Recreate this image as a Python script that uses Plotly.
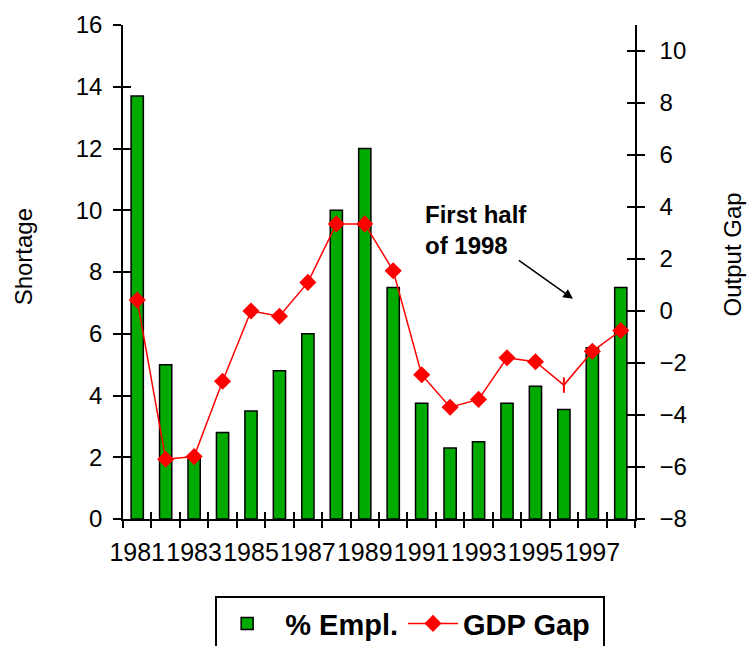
import plotly.graph_objects as go

years = list(range(1981, 1999))
empl = [13.7, 5.0, 2.0, 2.8, 3.5, 4.8, 6.0, 10.0, 12.0, 7.5, 3.75, 2.3, 2.5, 3.75, 4.3, 3.55, 5.55, 7.5]
gdp_gap = [0.42, -5.7, -5.6, -2.7, 0.0, -0.2, 1.1, 3.35, 3.35, 1.55, -2.45, -3.7, -3.4, -1.8, -1.95, -2.85, -1.55, -0.75]
gap_symbols = ["diamond"] * 15 + ["line-ns"] + ["diamond"] * 2
label_years = [1981, 1983, 1985, 1987, 1989, 1991, 1993, 1995, 1997]
boundaries = [y - 0.5 for y in years] + [years[-1] + 0.5]
left_ticks = list(range(0, 17, 2))
right_ticks = list(range(-8, 11, 2))

FONT = "Liberation Sans, Arial, sans-serif"
BLACK = "#000000"
GREEN = "rgb(0,170,0)"
RED = "#ff0000"

fig = go.Figure()
fig.add_trace(go.Bar(
    x=years, y=empl, name="\u00a0% Empl.", width=0.43,
    marker=dict(color=GREEN, line=dict(color=BLACK, width=1.5)),
    xaxis="x", yaxis="y",
))
fig.add_trace(go.Scatter(
    x=years, y=gdp_gap, name="GDP Gap\u00a0", mode="lines+markers",
    line=dict(color=RED, width=1.5),
    marker=dict(color=RED, size=11, symbol=gap_symbols, line=dict(color=RED, width=2)),
    xaxis="x", yaxis="y2",
))

axis_common = dict(showgrid=False, zeroline=False, showline=True, linecolor=BLACK,
                   linewidth=1.5, tickcolor=BLACK, tickwidth=1.5,
                   tickfont=dict(family=FONT, size=24, color=BLACK))

fig.update_layout(
    width=749, height=646,
    margin=dict(l=123, r=114, t=25, b=127, autoexpand=False),
    paper_bgcolor="white", plot_bgcolor="white",
    bargap=0.5,
    xaxis=dict(**{**axis_common, "tickfont": dict(family=FONT, size=25, color=BLACK)},
               range=[1980.5, 1998.5], tickmode="array", tickangle=0,
               tickvals=label_years, ticktext=[str(v) for v in label_years],
               ticks="", ticklabelstandoff=10,
               minor=dict(tickmode="array", tickvals=boundaries, ticks="outside",
                          ticklen=7, tickwidth=1.5, tickcolor=BLACK)),
    xaxis2=dict(overlaying="x", range=[1980.5, 1998.5], tickmode="array",
                tickvals=boundaries, ticks="inside", ticklen=7, tickwidth=1.5,
                tickcolor=BLACK, showticklabels=False, showgrid=False,
                zeroline=False, showline=False, anchor="y"),
    yaxis=dict(**axis_common, range=[0, 16], tickmode="array", tickvals=left_ticks,
               ticks="outside", ticklen=8, ticklabelstandoff=6),
    yaxis2=dict(**axis_common, range=[-8, 11], tickmode="array", tickvals=right_ticks,
                ticks="outside", ticklen=8, ticklabelstandoff=10,
                side="right", overlaying="y", anchor="x"),
    yaxis3=dict(overlaying="y", side="left", range=[0, 16], tickmode="array",
                tickvals=left_ticks, ticks="inside", ticklen=8, tickwidth=1.5,
                tickcolor=BLACK, showticklabels=False, showgrid=False,
                zeroline=False, showline=False, anchor="x"),
    yaxis4=dict(overlaying="y", side="right", range=[-8, 11], tickmode="array",
                tickvals=right_ticks, ticks="inside", ticklen=8, tickwidth=1.5,
                tickcolor=BLACK, showticklabels=False, showgrid=False,
                zeroline=False, showline=False, anchor="x"),
    legend=dict(orientation="h", x=0.18, y=-0.156, xanchor="left", yanchor="top",
                bordercolor=BLACK, borderwidth=2, bgcolor="white",
                font=dict(family=FONT, size=29, color=BLACK, weight="bold"),
                itemwidth=50, tracegroupgap=0),
    annotations=[
        dict(text="Shortage", xref="paper", yref="paper", x=-0.195, y=0.53,
             textangle=-90, showarrow=False, xanchor="center", yanchor="middle",
             font=dict(family=FONT, size=24, color=BLACK)),
        dict(text="Output Gap", xref="paper", yref="paper", x=1.19, y=0.536,
             textangle=-90, showarrow=False, xanchor="center", yanchor="middle",
             font=dict(family=FONT, size=24, color=BLACK)),
        dict(text="<b>First half</b><br><b>of 1998</b>", xref="x", yref="y",
             x=1996.32, y=7.13, ax=-97, ay=-69, showarrow=True, arrowhead=2,
             arrowsize=1.3, arrowwidth=1.5, arrowcolor=BLACK, align="left",
             font=dict(family=FONT, size=24, color=BLACK)),
    ],
)

# empty helper traces so overlay tick axes are drawn
fig.add_trace(go.Scatter(x=[None], y=[None], xaxis="x2", yaxis="y3", showlegend=False, hoverinfo="skip"))
fig.add_trace(go.Scatter(x=[None], y=[None], xaxis="x", yaxis="y4", showlegend=False, hoverinfo="skip"))

fig.write_html(
    "out.html",
    config={"displayModeBar": False},
    post_script="document.body.style.margin='0';document.body.style.overflow='hidden';",
)
